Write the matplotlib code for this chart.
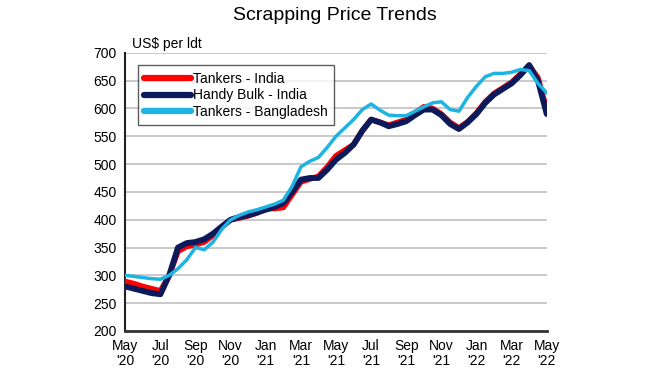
import numpy as np
import matplotlib
matplotlib.use('Agg')
import matplotlib.pyplot as plt

plt.rcParams['font.family'] = ['Liberation Sans', 'DejaVu Sans']

# semi-monthly readings, May '20 .. May '22 (months since May '20)
months = np.arange(0, 24.5, 0.5)

tankers_india = [289, 285, 280, 276, 272, 300, 343, 352, 355, 360,
                 372, 387, 400, 403, 407, 412, 420, 420, 422, 445,
                 468, 473, 478, 495, 515, 525, 535, 560, 580, 575,
                 570, 575, 580, 592, 603, 600, 590, 575, 565, 576,
                 592, 612, 627, 637, 647, 662, 677, 655, 598]

handy_bulk_india = [280, 276, 272, 268, 266, 300, 350, 358, 360, 365,
                    375, 388, 400, 405, 408, 413, 418, 423, 430, 450,
                    472, 475, 475, 490, 508, 520, 535, 560, 580, 575,
                    568, 572, 577, 588, 598, 598, 588, 572, 563, 575,
                    590, 610, 625, 635, 645, 660, 678, 650, 590]

tankers_bangladesh = [300, 298, 296, 294, 293, 300, 312, 328, 350, 346,
                      360, 383, 400, 408, 414, 418, 423, 428, 435, 460,
                      495, 505, 512, 530, 550, 565, 580, 598, 608, 597,
                      588, 587, 587, 595, 603, 610, 612, 598, 595, 620,
                      640, 657, 663, 663, 665, 670, 668, 645, 628]

tick_pos = list(range(0, 25, 2))
tick_labels = ["May\n'20", "Jul\n'20", "Sep\n'20", "Nov\n'20", "Jan\n'21", "Mar\n'21", "May\n'21",
               "Jul\n'21", "Sep\n'21", "Nov\n'21", "Jan\n'22", "Mar\n'22", "May\n'22"]

fig = plt.figure(figsize=(6.7, 3.8), dpi=100)
ax = fig.add_axes([0.187, 0.129, 0.629, 0.732])

style = dict(solid_capstyle='round', solid_joinstyle='round')
ax.plot(months, tankers_india, color='#ff0000', lw=4.0, label='Tankers - India', zorder=3, **style)
ax.plot(months, handy_bulk_india, color='#0c1a5c', lw=4.2, label='Handy Bulk - India', zorder=4, **style)
ax.plot(months, tankers_bangladesh, color='#1eb4e2', lw=2.5, label='Tankers - Bangladesh', zorder=5, **style)

ax.set_xlim(0, 24)
ax.set_ylim(200, 700)
ax.set_yticks(range(200, 701, 50))
ax.set_xticks(tick_pos)
ax.set_xticklabels(tick_labels, fontsize=10, linespacing=1.1)
ax.tick_params(axis='y', labelsize=10, length=0, pad=6)
ax.tick_params(axis='x', length=0, pad=6)
ax.yaxis.grid(True, color='#c0c0c0', lw=1.2)
ax.set_axisbelow(True)
for s in ['top', 'right']:
    ax.spines[s].set_visible(False)
ax.spines['left'].set_color('#222222')
ax.spines['left'].set_linewidth(1.5)
ax.spines['bottom'].set_color('#333333')
ax.spines['bottom'].set_linewidth(2)

fig.text(0.5, 0.958, 'Scrapping Price Trends', ha='center', va='center', fontsize=14)
fig.text(0.197, 0.883, 'US$ per ldt', ha='left', va='center', fontsize=10)

leg = ax.legend(loc='upper left', bbox_to_anchor=(0.03, 0.955), fontsize=10,
                frameon=True, fancybox=False, handlelength=3.4, handletextpad=0.15,
                borderpad=0.45, labelspacing=0.2, borderaxespad=0)
leg.get_frame().set_edgecolor('#333333')
leg.get_frame().set_linewidth(1)
for line in leg.get_lines():
    line.set_linewidth(4.5)

fig.savefig('out.png', dpi=100)
